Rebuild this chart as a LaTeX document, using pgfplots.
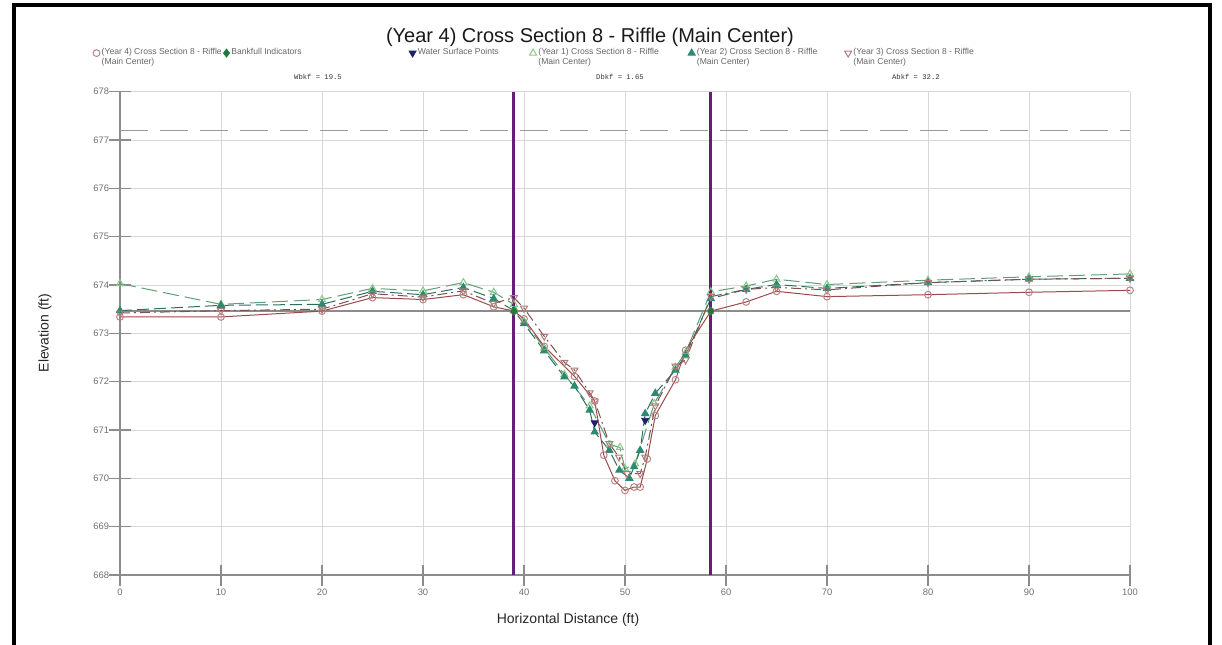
\documentclass[border=0pt]{standalone}
\usepackage{pgfplots}
\pgfplotsset{compat=1.18}
\usepackage{fontspec}
\setmainfont{Liberation Sans}
\newfontfamily\monofont{Liberation Mono}
\definecolor{axisgray}{HTML}{8C8C8C}
\definecolor{gridgray}{HTML}{D8D8D8}
\definecolor{tickgray}{HTML}{707070}
\definecolor{y4line}{HTML}{9A4A4A}
\definecolor{y4mark}{HTML}{B88484}
\definecolor{y1line}{HTML}{5E9E78}
\definecolor{y1mark}{HTML}{88C888}
\definecolor{y2line}{HTML}{2F6E5E}
\definecolor{y2mark}{HTML}{2B8A72}
\definecolor{y3line}{HTML}{7A5050}
\definecolor{y3mark}{HTML}{B07A7A}
\definecolor{bkgreen}{HTML}{1E7B3C}
\definecolor{wsnavy}{HTML}{1B1F6E}
\definecolor{bkfpurple}{HTML}{6A1B7A}
\definecolor{refgray}{HTML}{9A9A9A}
\definecolor{legendgray}{HTML}{666666}
\pgfplotsset{
 y4/.style={color=y4line, line width=0.5pt, mark=o, mark size=1.7pt, mark options={solid, draw=y4mark, fill=none}},
 y1/.style={color=y1line, line width=0.5pt, dash pattern=on 8pt off 3pt, mark=triangle, mark size=2pt, mark options={solid, draw=y1mark, fill=none}},
 y2/.style={color=y2line, line width=0.5pt, dash pattern=on 6pt off 2.5pt, mark=triangle*, mark size=2pt, mark options={solid, draw=y2mark, fill=y2mark}},
 y3/.style={color=y3line, line width=0.5pt, dash pattern=on 5pt off 2pt on 1pt off 2pt, mark=triangle, mark size=2pt, mark options={solid, rotate=180, draw=y3mark, fill=none}},
 bk/.style={only marks, mark=diamond*, mark size=2pt, color=bkgreen},
 ws/.style={only marks, mark=triangle*, mark size=2pt, mark options={rotate=180}, color=wsnavy},
}
\begin{document}
\begin{tikzpicture}[x=1pt,y=1pt]
\path[use as bounding box] (0,0) rectangle (611,322);
\begin{axis}[
  at={(60pt,34.5pt)}, anchor=south west,
  scale only axis, width=505pt, height=241.65pt,
  xmin=0, xmax=100, ymin=668, ymax=678,
  xtick={0,10,...,100}, ytick={668,669,...,678},
  axis x line*=bottom, axis y line*=left,
  axis line style={draw=axisgray, line width=0.6pt, -},
  tick align=center, major tick length=10.5pt,
  tick style={draw=axisgray, line width=0.6pt},
  grid=major, major grid style={draw=gridgray, line width=0.5pt},
  ticklabel style={font=\fontsize{4.7}{5}\selectfont, text=tickgray},
  /pgf/number format/assume math mode=true,
  /pgf/number format/1000 sep={},
  yticklabel style={anchor=east, inner sep=0pt, xshift=0pt},
  xticklabel style={anchor=north, inner sep=0pt, yshift=-1.5pt},
  clip=false,
  legend columns=6,
  legend cell align=left,
  legend style={at={(axis description cs:-0.027,1.094)}, anchor=north west, draw=none, fill=none,
     font=\fontsize{4.3}{5.1}\selectfont, text=legendgray, inner sep=0pt, row sep=0pt,
     nodes={inner sep=0.9pt},
     /tikz/every even column/.append style={column sep=0pt}},
  legend image code/.code={\draw[#1,/tikz/only marks] plot coordinates {(0pt,0pt)};},
]
% reference lines
\addplot[refgray, line width=0.6pt, dash pattern=on 14pt off 6pt, forget plot] coordinates {(0,677.2) (100,677.2)};
\addplot[axisgray, line width=0.7pt, forget plot] coordinates {(0,673.46) (100,673.46)};
% Year 1
\addplot[y1, forget plot] coordinates {
(0,674.03) (10,673.60) (20,673.70) (25,673.93) (30,673.88) (34,674.05) (37,673.85) (39,673.60)
(40,673.25) (42,672.70) (44,672.15) (46.5,671.50) (48.5,670.70) (49.5,670.64) (50,670.20)
(51,670.30) (52.9,671.55) (55,672.30) (56,672.60) (58.5,673.86) (62,673.98) (65,674.12)
(70,674.01) (80,674.10) (90,674.17) (100,674.23)};
% Year 2
\addplot[y2, forget plot] coordinates {
(0,673.47) (10,673.58) (20,673.60) (25,673.87) (30,673.80) (34,673.95) (37,673.72) (39,673.47)
(40,673.20) (42,672.64) (44,672.10) (45,671.91) (46.5,671.41) (47,670.96) (48.45,670.58)
(49.44,670.17) (50.43,670.00) (50.9,670.24) (51.5,670.58) (52,671.34) (53,671.76) (55,672.24)
(56,672.55) (58.5,673.72) (62,673.91) (65,674.01) (70,673.93) (80,674.05) (90,674.12) (100,674.14)};
% Year 3
\addplot[y3, forget plot] coordinates {
(0,673.42) (10,673.47) (20,673.50) (25,673.82) (30,673.75) (34,673.88) (37,673.62) (39,673.74)
(40,673.52) (42,672.94) (44,672.40) (45,672.24) (46.5,671.77) (47,671.60) (48.45,670.72)
(49.4,670.44) (50.2,670.10) (51.5,670.10) (52,670.44) (53,671.50) (55,672.32) (56,672.45)
(58.5,673.76) (62,673.91) (65,673.95) (70,673.90) (80,674.05) (90,674.12) (100,674.14)};
% Year 4
\addplot[y4, forget plot] coordinates {
(0,673.34) (10,673.34) (20,673.46) (25,673.74) (30,673.70) (34,673.80) (37,673.55) (39,673.46)
(40,673.30) (42,672.73) (45,672.11) (47,671.60) (47.9,670.48) (49,669.95) (50,669.75)
(50.9,669.82) (51.5,669.82) (52.2,670.40) (53,671.30) (55,672.04) (56,672.65) (58.5,673.46)
(62,673.65) (65,673.87) (70,673.76) (80,673.80) (90,673.85) (100,673.89)};
% bankfull indicators and water surface
\addplot[bk, forget plot] coordinates {(39,673.46) (58.5,673.46)};
\addplot[ws, forget plot] coordinates {(47,671.15) (52,671.20)};
% bankfull limits
\addplot[bkfpurple, line width=1.5pt, forget plot] coordinates {(39,668) (39,678)};
\addplot[bkfpurple, line width=1.5pt, forget plot] coordinates {(58.5,668) (58.5,678)};
% legend
\addlegendimage{y4}
\addlegendentry{\parbox[t]{60pt}{(Year 4) Cross Section 8 - Riffle\\(Main Center)}}
\addlegendimage{bk}
\addlegendentry{\parbox[t]{88pt}{Bankfull Indicators}}
\addlegendimage{ws}
\addlegendentry{\parbox[t]{55pt}{Water Surface Points}}
\addlegendimage{y1}
\addlegendentry{\parbox[t]{74pt}{(Year 1) Cross Section 8 - Riffle\\(Main Center)}}
\addlegendimage{y2}
\addlegendentry{\parbox[t]{73pt}{(Year 2) Cross Section 8 - Riffle\\(Main Center)}}
\addlegendimage{y3}
\addlegendentry{\parbox[t]{70pt}{(Year 3) Cross Section 8 - Riffle\\(Main Center)}}
% bankfull statistics
\node[font=\monofont\fontsize{3.6}{4.5}\selectfont, text=black!80] at (axis cs:19.6,678.30) {Wbkf = 19.5};
\node[font=\monofont\fontsize{3.6}{4.5}\selectfont, text=black!80] at (axis cs:49.5,678.30) {Dbkf = 1.65};
\node[font=\monofont\fontsize{3.6}{4.5}\selectfont, text=black!80] at (axis cs:78.8,678.30) {Abkf = 32.2};
\end{axis}
% titles
\node[font=\fontsize{10}{12}\selectfont, text=black!90] at (295,303.5) {(Year 4) Cross Section 8 - Riffle (Main Center)};
\node[font=\fontsize{7}{8}\selectfont, text=black!85] at (284,12) {Horizontal Distance (ft)};
\node[font=\fontsize{7}{8}\selectfont, text=black!85, rotate=90] at (22.5,155.5) {Elevation (ft)};
% frame
\draw[line width=2pt, black] (6.75,-10) -- (6.75,319.25) -- (605,319.25) -- (605,-10);
\end{tikzpicture}
\end{document}
